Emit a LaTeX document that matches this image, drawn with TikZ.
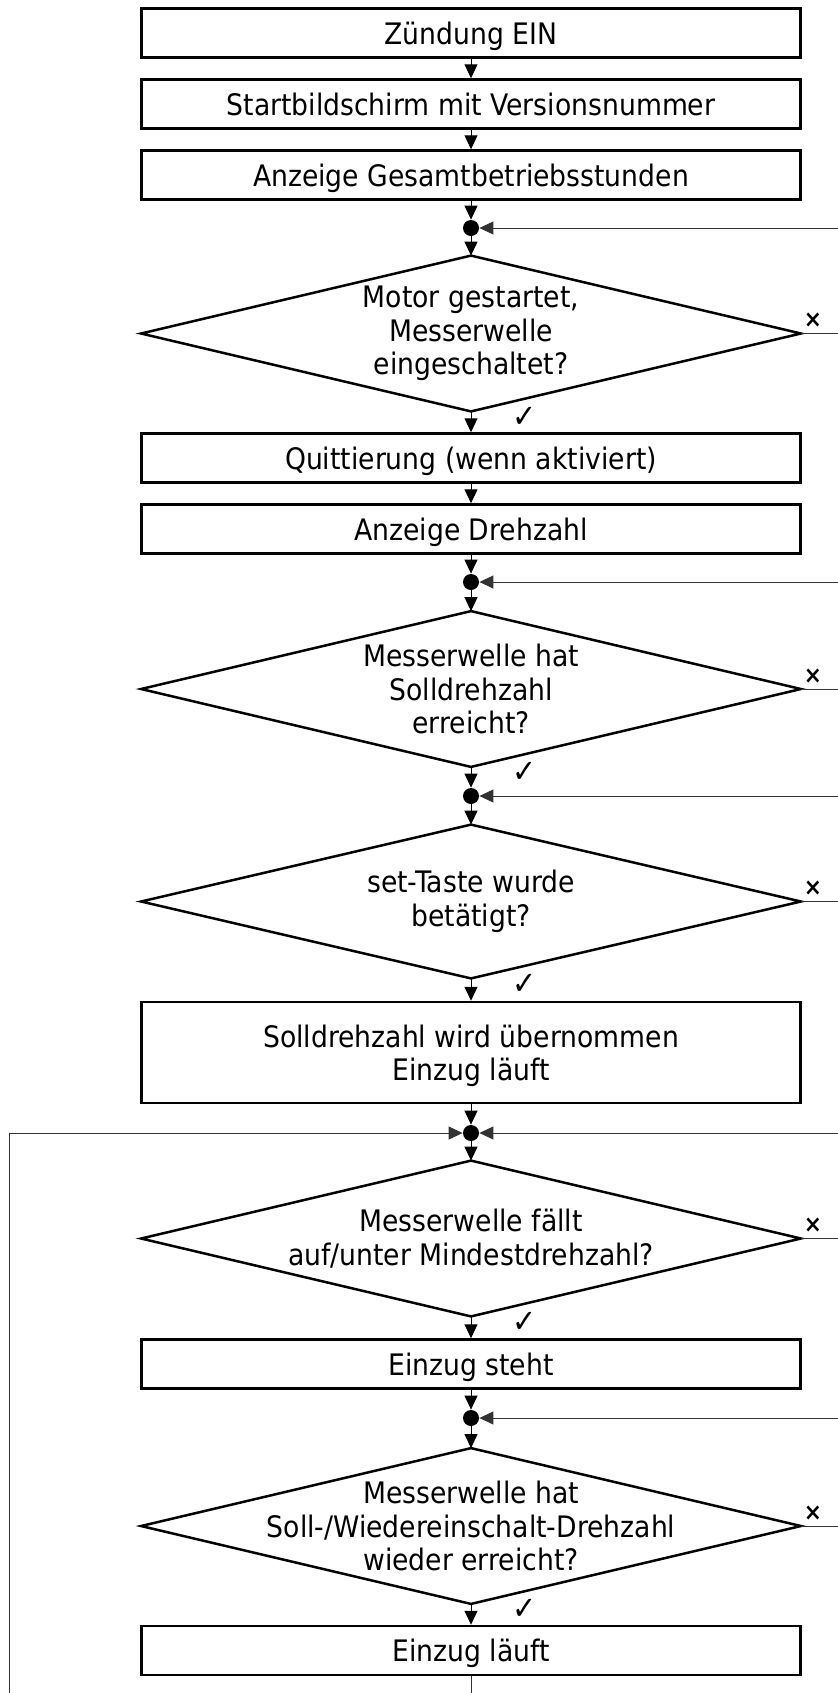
\documentclass[tikz,border=0pt]{standalone}
\usepackage{fontspec}
\setmainfont{DejaVu Sans}[FakeStretch=0.9]
\usetikzlibrary{arrows.meta}
\begin{document}
\begin{tikzpicture}[x=0.5pt, y=-0.5pt, every node/.style={font=\fontsize{14.8}{16.75}\selectfont}, box/.style={draw,line width=1.25pt,minimum width=329.5pt,minimum height=24.5pt,inner sep=0pt,text depth=0pt,align=center}, test/.style={minimum width=329.5pt,minimum height=77.5pt,inner sep=0pt,align=center}, dot/.style={circle,fill=black,inner sep=0pt,minimum size=8pt}, flow/.style={-{Triangle[width=6.5pt,length=7pt]},line width=0.5pt}, back/.style={draw=black!80,line width=0.5pt}, yes/.style={font=\fontsize{16}{16}\selectfont}, no/.style={font=\bfseries\fontsize{12}{12}\selectfont}]
\useasboundingbox (0,0) rectangle (838,1693);
% start
\node[box] (b1) at (471,33) {Zündung EIN}; \node[box] (b2) at (471,104) {Startbildschirm mit Versionsnummer}; \node[box] (b3) at (471,175) {Anzeige Gesamtbetriebsstunden};
\draw[flow] (b1) -- (b2); \draw[flow] (b2) -- (b3);
% motor
\node[dot] (j1) at (471,228) {}; \node[test] (d1) at (471,333.5) {Motor gestartet,\\ Messerwelle\\ eingeschaltet?};
\node[box] (b4) at (471,458) {Quittierung (wenn aktiviert)}; \node[box] (b5) at (471,529) {Anzeige Drehzahl};
\draw[flow] (b3) -- (j1); \draw[flow] (j1) -- (d1.north); \draw[flow] (d1.south) -- (b4); \draw[flow] (b4) -- (b5);
% solldrehzahl
\node[dot] (j2) at (471,582) {}; \node[test] (d2) at (471,689) {Messerwelle hat\\ Solldrehzahl\\ erreicht?};
\draw[flow] (b5) -- (j2); \draw[flow] (j2) -- (d2.north);
% set-taste
\node[dot] (j3) at (471,796) {}; \node[test,minimum height=76.5pt] (d3) at (471,901.5) {set-Taste wurde\\ betätigt?};
\node[box,minimum height=50.5pt] (b6) at (471,1052.5) {Solldrehzahl wird übernommen\\ Einzug läuft};
\draw[flow] (d2.south) -- (j3); \draw[flow] (j3) -- (d3.north); \draw[flow] (d3.south) -- (b6);
% mindestdrehzahl
\node[dot] (j4) at (471,1133) {}; \node[test] (d4) at (471,1238.5) {Messerwelle fällt\\ auf/unter Mindestdrehzahl?};
\node[box] (b7) at (471,1364) {Einzug steht};
\draw[flow] (b6) -- (j4); \draw[flow] (j4) -- (d4.north); \draw[flow] (d4.south) -- (b7);
% wiedereinschalt
\node[dot] (j5) at (471,1418) {}; \node[test] (d5) at (471,1526) {Messerwelle hat\\ Soll-/Wiedereinschalt-Drehzahl\\ wieder erreicht?};
\node[box] (b8) at (471,1650.5) {Einzug läuft};
\draw[flow] (b7) -- (j5); \draw[flow] (j5) -- (d5.north); \draw[flow] (d5.south) -- (b8);
% diamonds, yes/no marks
\foreach \d in {d1,d2,d3,d4,d5} {
  \draw[line width=1.25pt] (\d.north) -- (\d.east) -- (\d.south) -- (\d.west) -- cycle;
  \node[yes] (\d y) at ([xshift=27pt,yshift=-3pt]\d.south) {✓};
  \node[no] (\d n) at ([xshift=6pt,yshift=6.5pt]\d.east) {×};
}
% loops back
\foreach \d/\j in {d1/j1,d2/j2,d3/j3,d4/j4,d5/j5} {
  \coordinate (\d r) at (838,0 |- \d.east); \coordinate (\j r) at (838,0 |- \j);
  \draw[back] (\d.east) -- (\d r); \draw[back,flow] (\j r) -- (\j);
}
\coordinate (e1) at (471,1693); \coordinate (e2) at (9,1693); \coordinate (e3) at (9,1133);
\draw[back] (b8) -- (e1); \draw[back,flow] (e2) -- (e3) -- (j4);
\end{tikzpicture}
\end{document}
